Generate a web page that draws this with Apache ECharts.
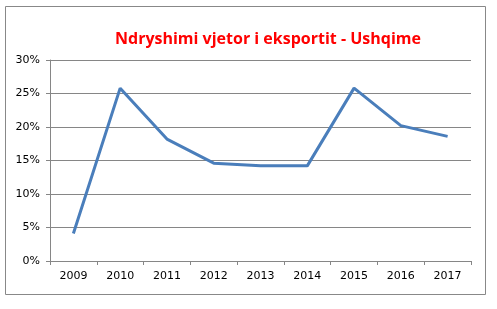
<!DOCTYPE html>
<html><head><meta charset="utf-8">
<script src="https://cdn.jsdelivr.net/npm/echarts@6/dist/echarts.min.js"></script>
<style>html,body{margin:0;padding:0;background:#fff}#c{width:497px;height:309px}</style>
</head><body><div id="c"></div>
<script>
const categories = ['2009','2010','2011','2012','2013','2014','2015','2016','2017'];
const values = [4.1, 25.8, 18.2, 14.6, 14.2, 14.2, 25.8, 20.2, 18.6];
const titleText = 'Ndryshimi vjetor i eksportit - Ushqime';

const chart = echarts.init(document.getElementById('c'), null, {renderer:'canvas'});
chart.setOption({
  animation:false,
  backgroundColor:'#fff',
  graphic:[{type:'rect', shape:{x:5.5,y:6.5,width:480,height:288}, style:{fill:'none', stroke:'#888', lineWidth:1}, z:-1}],
  title:{text:titleText, left:110, top:26, textStyle:{color:'#ff0000', fontWeight:'bold', fontSize:16, fontFamily:'Open Sans'}},
  grid:{left:50, right:26, top:60, bottom:48, containLabel:false},
  xAxis:{type:'category', data:categories, boundaryGap:true,
    axisLine:{lineStyle:{color:'#868686'}},
    axisTick:{show:true, length:4, lineStyle:{color:'#868686'}},
    axisLabel:{color:'#000', fontSize:11, fontFamily:'DejaVu Sans', margin:10}},
  yAxis:{type:'value', min:0, max:30, interval:5,
    axisLine:{show:true, lineStyle:{color:'#868686'}},
    axisTick:{show:true, length:4, lineStyle:{color:'#868686'}},
    axisLabel:{color:'#000', fontSize:11, fontFamily:'DejaVu Sans', formatter:'{value}%', margin:10},
    splitLine:{lineStyle:{color:'#868686'}}},
  series:[{type:'line', data:values, symbol:'none', lineStyle:{color:'#4a7ebb', width:3}}]
});
</script></body></html>
